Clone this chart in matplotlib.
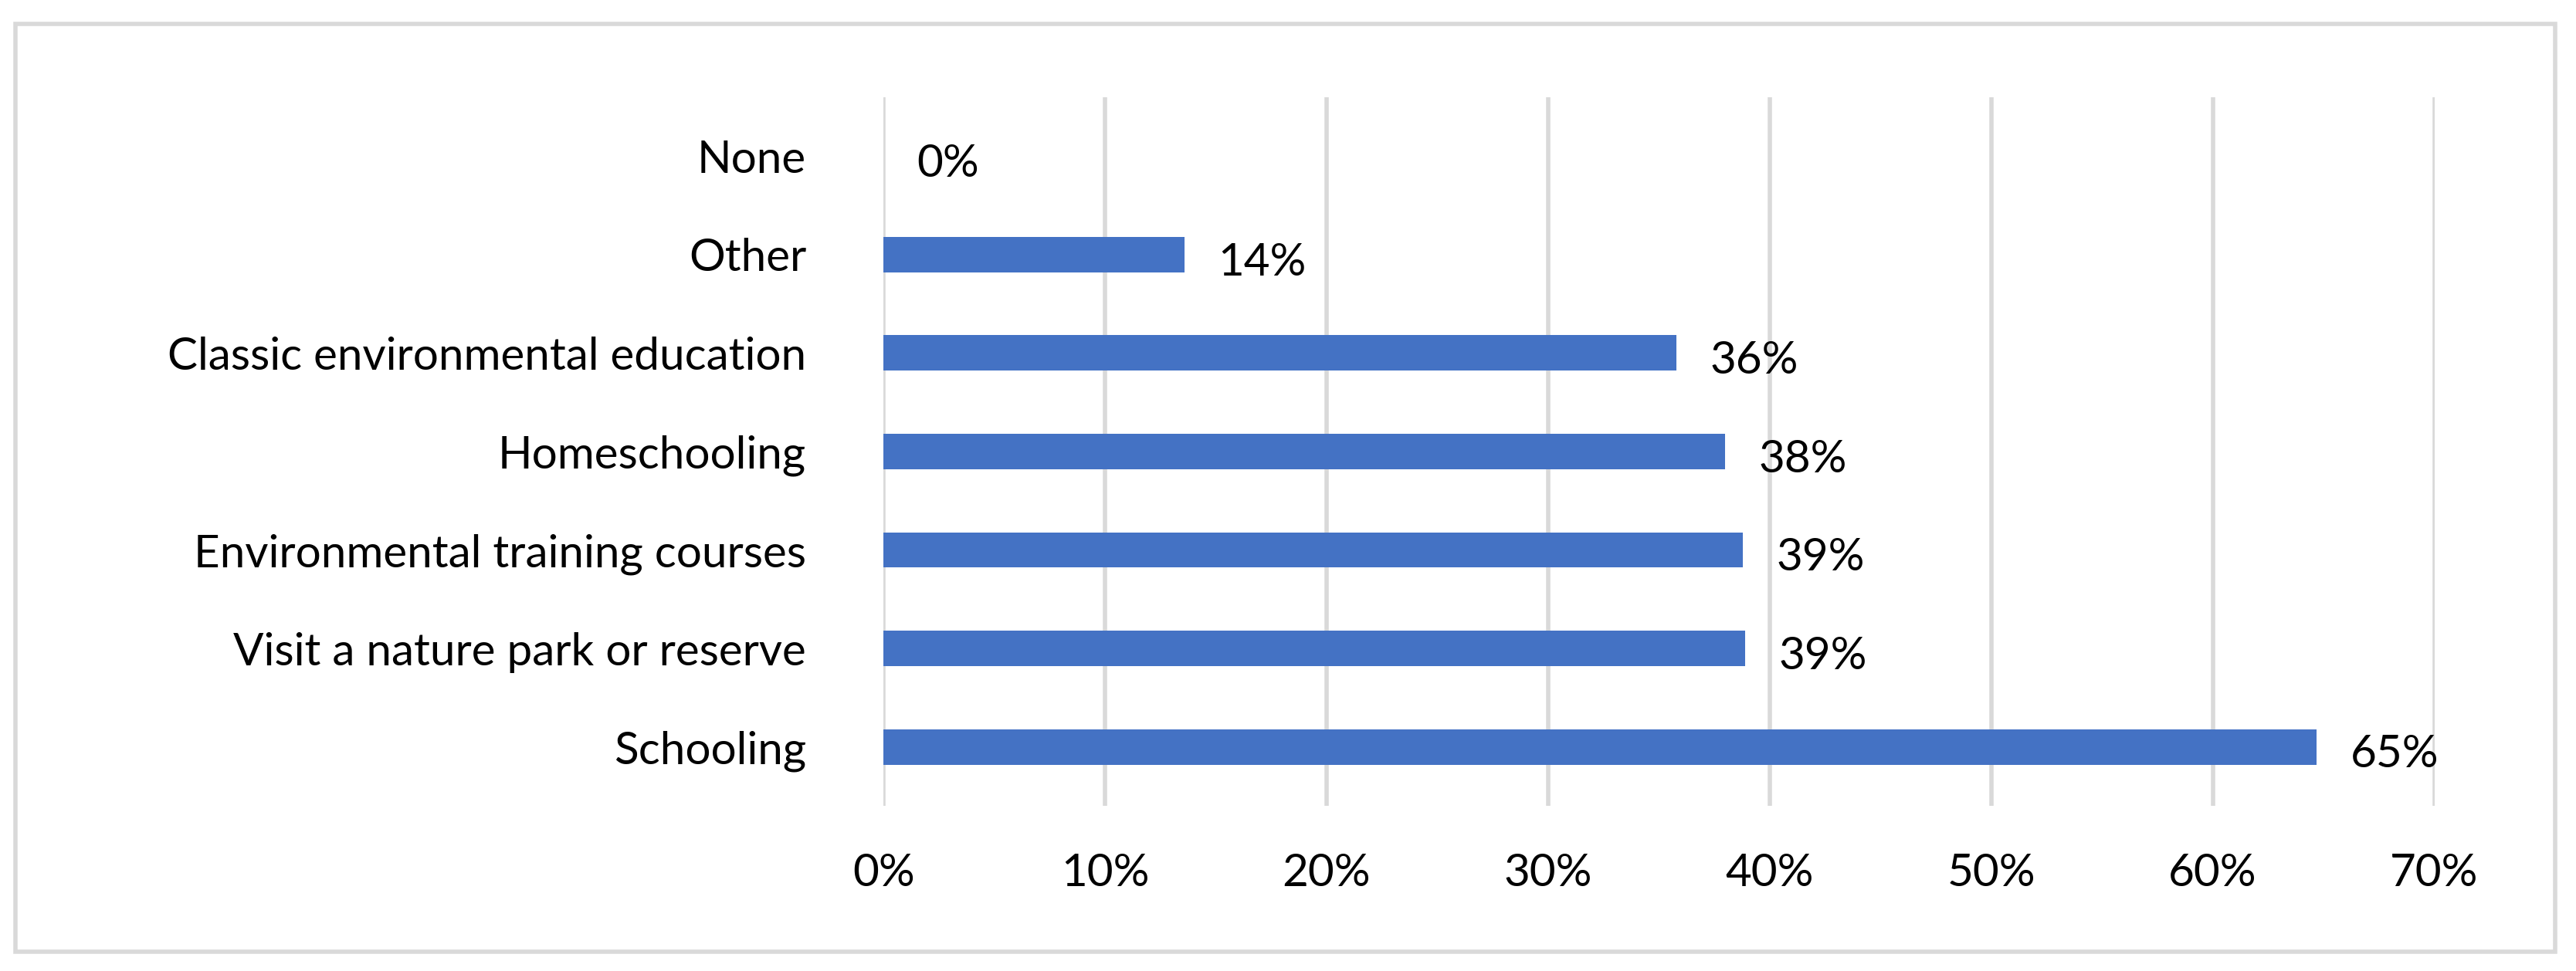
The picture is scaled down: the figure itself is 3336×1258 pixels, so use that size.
import matplotlib
matplotlib.use("Agg")
import matplotlib.pyplot as plt
import matplotlib.ticker as ticker
from matplotlib.patches import Rectangle

categories = ["Schooling", "Visit a nature park or reserve", "Environmental training courses",
              "Homeschooling", "Classic environmental education", "Other", "None"]
values = [64.7, 38.9, 38.8, 38.0, 35.8, 13.6, 0.0]
labels = ["65%", "39%", "39%", "38%", "36%", "14%", "0%"]

plt.rcParams["font.family"] = ["Lato", "DejaVu Sans"]
fig = plt.figure(figsize=(16.68, 6.29), dpi=200)
ax = fig.add_axes([0.343, 0.17, 0.602, 0.73])

y = range(len(categories))
ax.barh(y, values, height=0.36, color="#4472C4", zorder=3)
for yi, v, lab in zip(y, values, labels):
    ax.text(v + 1.5, yi - 0.08, lab, va="center", ha="left", fontsize=21)

ax.set_xlim(0, 70)
ax.set_ylim(-0.6, 6.6)
ax.xaxis.set_major_locator(ticker.MultipleLocator(10))
ax.xaxis.set_major_formatter(ticker.FuncFormatter(lambda x, p: f"{x:.0f}%"))
ax.set_yticks(list(y))
ax.set_yticklabels(categories)
ax.tick_params(axis="both", length=0, labelsize=21)
ax.tick_params(axis="x", pad=22)
ax.tick_params(axis="y", pad=36)
ax.grid(axis="x", color="#D9D9D9", linewidth=2, zorder=0)
for s in ax.spines.values():
    s.set_visible(False)

fig.patches.append(Rectangle((0.006, 0.02), 0.986, 0.955, transform=fig.transFigure,
                             fill=False, edgecolor="#D9D9D9", linewidth=2))
fig.savefig("out.png", dpi=200, facecolor="white")
